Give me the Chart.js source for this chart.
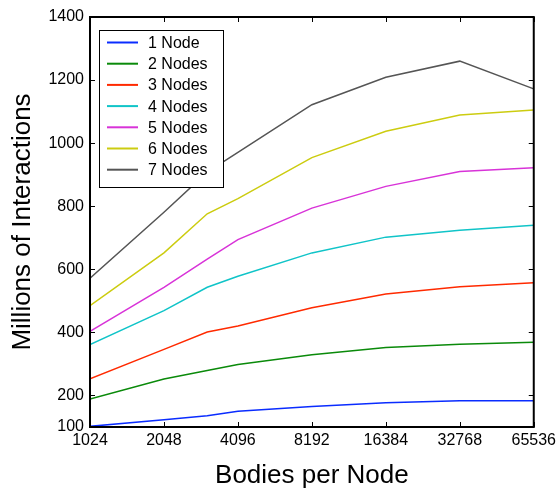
<!DOCTYPE html>
<html>
<head>
<meta charset="utf-8">
<title>Millions of Interactions vs Bodies per Node</title>
<script src="https://cdn.jsdelivr.net/npm/chart.js@4.4.1/dist/chart.umd.min.js"></script>
<style>
  html, body { margin: 0; padding: 0; background: #ffffff; }
  canvas { display: block; }
</style>
</head>
<body>
<canvas id="chart" width="560" height="491"></canvas>
<script>
// Problem size per node (x) and measured throughput for each node count (y)
const bodiesPerNode = [1024, 2048, 3072, 4096, 8192, 16384, 32768, 65536];
const xTickValues = [1024, 2048, 4096, 8192, 16384, 32768, 65536];
const yTickValues = [100, 200, 400, 600, 800, 1000, 1200, 1400];

const seriesLabels = ['1 Node', '2 Nodes', '3 Nodes', '4 Nodes', '5 Nodes', '6 Nodes', '7 Nodes'];
const nodes1 = [102, 123, 136, 150, 165, 177, 183, 183];
const nodes2 = [189, 252, 279, 298, 329, 352, 362, 369];
const nodes3 = [253, 346, 401, 420, 478, 522, 545, 557];
const nodes4 = [361, 469, 543, 578, 652, 702, 724, 740];
const nodes5 = [403, 543, 632, 694, 794, 863, 910, 922];
const nodes6 = [485, 652, 776, 824, 954, 1038, 1089, 1105];
const nodes7 = [572, 781, 908, 971, 1122, 1209, 1260, 1172];
const seriesValues = [nodes1, nodes2, nodes3, nodes4, nodes5, nodes6, nodes7];
const seriesColors = ['#0a2cff', '#0a8a0a', '#ff2a00', '#10c4c8', '#d833d8', '#cccc10', '#555555'];

const FONT = '"Liberation Sans", Arial, Helvetica, sans-serif';

// Closed frame with inward ticks on all four sides, matching the scale ticks
const frameTicks = {
  id: 'frameTicks',
  afterDatasetsDraw(chart) {
    const { ctx, chartArea: a, scales: { x, y } } = chart;
    const len = 5;
    ctx.save();
    ctx.strokeStyle = '#000000';
    ctx.lineWidth = 1;
    ctx.beginPath();
    x.ticks.forEach(t => {
      const px = Math.round(x.getPixelForValue(t.value)) + 0.5;
      ctx.moveTo(px, a.bottom); ctx.lineTo(px, a.bottom - len);
      ctx.moveTo(px, a.top); ctx.lineTo(px, a.top + len);
    });
    y.ticks.forEach(t => {
      const py = Math.round(y.getPixelForValue(t.value)) + 0.5;
      ctx.moveTo(a.left, py); ctx.lineTo(a.left + len, py);
      ctx.moveTo(a.right, py); ctx.lineTo(a.right - len, py);
    });
    ctx.stroke();
    ctx.lineWidth = 2;
    ctx.strokeRect(a.left, a.top, a.right - a.left, a.bottom - a.top);
    ctx.restore();
  }
};

// Boxed legend in the upper-left corner of the plot area
const boxedLegend = {
  id: 'boxedLegend',
  afterDraw(chart) {
    const { ctx, chartArea: a } = chart;
    const bx = a.left + 9, by = a.top + 13, bw = 124, bh = 157;
    const rowH = 21.2;
    ctx.save();
    ctx.fillStyle = '#ffffff';
    ctx.fillRect(bx, by, bw, bh);
    ctx.strokeStyle = '#000000';
    ctx.lineWidth = 1;
    ctx.strokeRect(bx + 0.5, by + 0.5, bw, bh);
    ctx.font = '16px ' + FONT;
    ctx.textBaseline = 'middle';
    ctx.textAlign = 'left';
    chart.data.datasets.forEach((ds, i) => {
      const cy = by + 12.5 + i * rowH;
      ctx.strokeStyle = ds.borderColor;
      ctx.lineWidth = 2;
      ctx.beginPath();
      ctx.moveTo(bx + 8, cy);
      ctx.lineTo(bx + 39, cy);
      ctx.stroke();
      ctx.fillStyle = '#000000';
      ctx.fillText(ds.label, bx + 49, cy + 1);
    });
    ctx.restore();
  }
};

const datasets = seriesLabels.map((label, i) => ({
  label: label,
  data: bodiesPerNode.map((b, j) => ({ x: b, y: seriesValues[i][j] })),
  borderColor: seriesColors[i],
  backgroundColor: seriesColors[i],
  borderWidth: 1.5,
  pointRadius: 0,
  tension: 0,
  fill: false
}));

new Chart(document.getElementById('chart'), {
  type: 'line',
  data: { datasets: datasets },
  plugins: [frameTicks, boxedLegend],
  options: {
    responsive: false,
    animation: false,
    layout: { padding: { left: 0, right: 25, top: 17, bottom: 0 } },
    plugins: {
      legend: { display: false },
      tooltip: { enabled: false }
    },
    scales: {
      x: {
        type: 'logarithmic',
        min: 1024,
        max: 65536,
        afterBuildTicks: (scale) => { scale.ticks = xTickValues.map(v => ({ value: v })); },
        afterFit: (scale) => { scale.height = 64; },
        grid: { display: false, drawTicks: false },
        border: { display: false },
        ticks: {
          color: '#000000',
          font: { family: FONT, size: 16 },
          padding: 4,
          maxRotation: 0,
          autoSkip: false,
          callback: (v) => String(v)
        },
        title: {
          display: true,
          text: 'Bodies per Node',
          color: '#000000',
          font: { family: FONT, size: 26 },
          padding: { top: 0, bottom: 0 }
        }
      },
      y: {
        type: 'linear',
        min: 100,
        max: 1400,
        afterBuildTicks: (scale) => { scale.ticks = yTickValues.map(v => ({ value: v })); },
        afterFit: (scale) => { scale.width = 90; },
        grid: { display: false, drawTicks: false },
        border: { display: false },
        ticks: {
          color: '#000000',
          font: { family: FONT, size: 16 },
          padding: 6,
          autoSkip: false,
          callback: (v) => String(v)
        },
        title: {
          display: true,
          text: 'Millions of Interactions',
          color: '#000000',
          font: { family: FONT, size: 26 },
          padding: { top: 7, bottom: 0 }
        }
      }
    }
  }
});
</script>
</body>
</html>
